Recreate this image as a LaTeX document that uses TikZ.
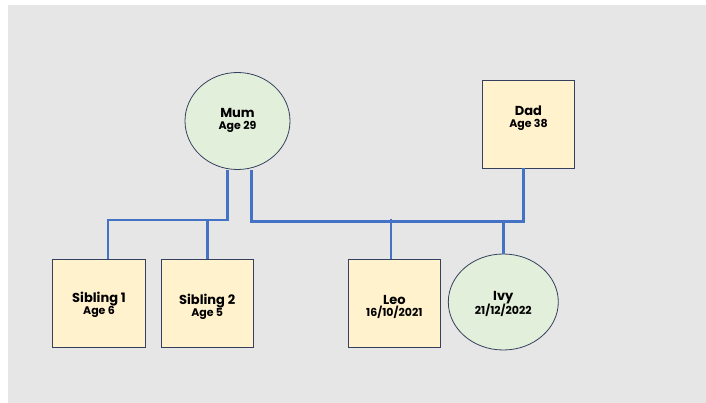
\documentclass[tikz,border=0pt]{standalone}
\usepackage{fontspec}
\setmainfont{Poppins}
\usetikzlibrary{shapes.geometric}
\definecolor{bggray}{HTML}{E6E6E6}
\definecolor{linkblue}{HTML}{4472C4}
\definecolor{boxfill}{HTML}{FFF2CC}
\definecolor{circfill}{HTML}{E2EFDA}
\definecolor{edge}{HTML}{34405E}
\begin{document}
\begin{tikzpicture}[x=1pt,y=-1pt,
  personbox/.style={draw=edge,line width=0.8pt,fill=boxfill,minimum width=92.6pt,minimum height=88pt,inner sep=0pt},
  personcirc/.style={ellipse,draw=edge,line width=0.8pt,fill=circfill,inner sep=0pt},
  nametext/.style={align=center,inner sep=0pt},
  link/.style={draw=linkblue,line width=2.8pt}]
\newcommand{\nmtxt}[1]{{\bfseries\fontsize{13}{15}\selectfont #1}}
\newcommand{\subtxt}[1]{{\bfseries\fontsize{11}{13}\selectfont #1}}
\useasboundingbox (0,0) rectangle (706,403);
\fill[white] (0,0) rectangle (706,403);
\fill[bggray] (8,5) rectangle (706,403);
% nodes
\node[personcirc,minimum width=105pt,minimum height=97pt] (mum) at (237.5,121) {};
\node[nametext] (mumt) at ([yshift=0.5pt]mum.center) {\nmtxt{Mum}\\[0pt]\subtxt{Age 29}};
\node[personbox] (dad) at (528.5,124) {};
\node[nametext] (dadt) at ([yshift=6pt]dad.center) {\nmtxt{Dad}\\[0pt]\subtxt{Age 38}};
\node[personbox] (sib1) at (99,303.3) {};
\node[nametext] (sib1t) at ([yshift=-1.5pt]sib1.center) {\nmtxt{Sibling 1}\\[0pt]\subtxt{Age 6}};
\node[personbox] (sib2) at (207.2,303.3) {};
\node[nametext] (sib2t) at ([yshift=-3.5pt]sib2.center) {\nmtxt{Sibling 2}\\[0pt]\subtxt{Age 5}};
\node[personbox] (leo) at (394.3,303.2) {};
\node[nametext] (leot) at ([yshift=-3.5pt]leo.center) {\nmtxt{Leo}\\[0pt]\subtxt{16/10/2021}};
\node[personcirc,minimum width=110pt,minimum height=96pt] (ivy) at (503.3,302) {};
\node[nametext] (ivyt) at ([yshift=-2pt]ivy.center) {\nmtxt{Ivy}\\[0pt]\subtxt{21/12/2022}};
% junctions
\coordinate (jl) at (227.3,220);
\coordinate (jr) at (523.3,221.7);
% connectors
\draw[link] ([xshift=-10.2pt]mum.south) |- ([xshift=9pt]sib1.north |- jl) -- ([xshift=9pt]sib1.north);
\draw[link] (sib2.north |- jl) -- (sib2.north);
\draw[link] ([xshift=13.8pt]mum.south) |- (jr) -- ([xshift=-5.2pt]dad.south);
\draw[link] ([xshift=-3.3pt]leo.north |- 0,219) -- ([xshift=-3.3pt]leo.north);
\draw[link] (ivy.north |- jr) -- (ivy.north);
\end{tikzpicture}
\end{document}
